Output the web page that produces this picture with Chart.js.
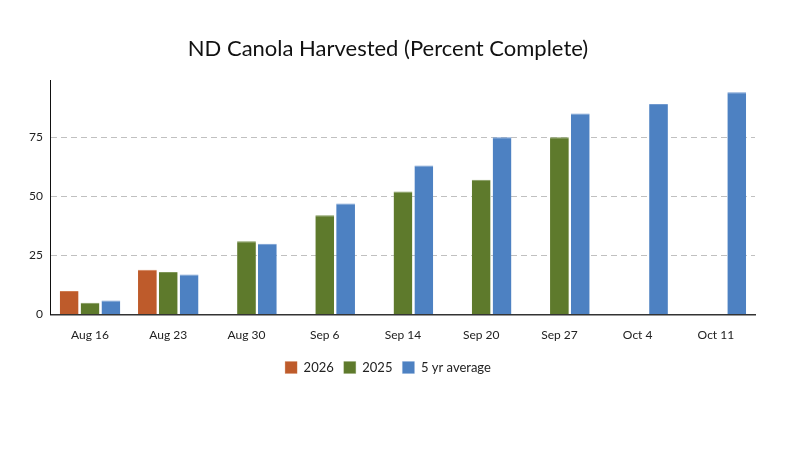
<!DOCTYPE html>
<html>
<head>
<meta charset="utf-8">
<script src="https://cdn.jsdelivr.net/npm/chart.js@4"></script>
<style>
  html, body { margin: 0; padding: 0; background: #fff; }
  #wrap { width: 800px; height: 450px; }
</style>
</head>
<body>
<div id="wrap"><canvas id="barChart" width="800" height="450"></canvas></div>
<script>
const weeks = ['Aug 16', 'Aug 23', 'Aug 30', 'Sep 6', 'Sep 14', 'Sep 20', 'Sep 27', 'Oct 4', 'Oct 11'];
const year2026 = [10, 19, null, null, null, null, null, null, null];
const year2025 = [5, 18, 31, 42, 52, 57, 75, null, null];
const fiveYearAvg = [6, 17, 30, 47, 63, 75, 85, 89, 94];
const yTicks = [0, 25, 50, 75];

Chart.defaults.font.family = 'Lato, "Open Sans", sans-serif';
Chart.defaults.color = '#222';

let ctx = document.getElementById('barChart').getContext('2d');
let barChart = new Chart(ctx, {
  type: 'bar',
  data: {
    labels: weeks,
    datasets: [{
      label: '2026',
      data: year2026,
      backgroundColor: '#BE5B2B',
      borderColor: '#CF7C52',
      borderWidth: { top: 1, left: 0, right: 0, bottom: 0 },
      borderSkipped: 'bottom'
    }, {
      label: '2025',
      data: year2025,
      backgroundColor: '#5E7A2C',
      borderColor: '#7F9757',
      borderWidth: { top: 1, left: 0, right: 0, bottom: 0 },
      borderSkipped: 'bottom'
    }, {
      label: '5 yr average',
      data: fiveYearAvg,
      backgroundColor: '#4D81C2',
      borderColor: '#7099CF',
      borderWidth: { top: 1, left: 0, right: 0, bottom: 0 },
      borderSkipped: 'bottom'
    }]
  },
  options: {
    responsive: false,
    animation: false,
    layout: { padding: { left: 21, right: 45, top: 26, bottom: 66 } },
    plugins: {
      title: {
        display: true,
        text: 'ND Canola Harvested (Percent Complete)',
        color: '#111',
        font: { size: 22, weight: 'normal' },
        padding: { top: 10, bottom: 18 }
      },
      legend: {
        position: 'bottom',
        labels: {
          boxWidth: 12,
          boxHeight: 12,
          padding: 10,
          font: { size: 13 },
          color: '#222'
        }
      },
      tooltip: { enabled: false }
    },
    scales: {
      x: {
        grid: { display: false, drawTicks: false },
        border: { color: '#333', width: 1.5 },
        ticks: { font: { size: 12 }, padding: 13, color: '#222' },
        afterFit: function(scale) {
          // pull the axis closer to the legend
          scale.height -= 4;
        }
      },
      y: {
        min: 0,
        max: 99,
        afterBuildTicks: function(scale) {
          scale.ticks = yTicks.map(v => ({ value: v }));
        },
        grid: {
          color: '#c0c0c0',
          drawTicks: false
        },
        border: { color: '#111', width: 1, dash: [6, 4] },
        ticks: { font: { size: 12 }, padding: 8, color: '#222' }
      }
    }
  }
});
</script>
</body>
</html>
